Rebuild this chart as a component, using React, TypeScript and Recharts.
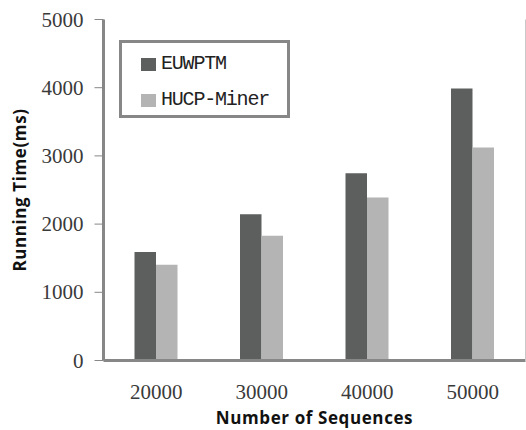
import React from 'react';
import { BarChart, Bar, XAxis, YAxis, Legend } from 'recharts';

// Sequence counts on the x axis
const categories = ['20000', '30000', '40000', '50000'];
// Running time (ms) per algorithm
const euwptm = [1590, 2145, 2745, 3990];
const hucpMiner = [1405, 1830, 2390, 3125];
const yTicks = [0, 1000, 2000, 3000, 4000, 5000];

const seriesNames = ['EUWPTM', 'HUCP-Miner'];
const colors = ['#5d5f5e', '#b3b4b3'];

const data = categories.map((c, i) => ({
  sequences: c,
  [seriesNames[0]]: euwptm[i],
  [seriesNames[1]]: hucpMiner[i],
}));

const frame = '#878787';
const tickFamily = 'Liberation Serif, Times New Roman, serif';
const legendFamily = 'Liberation Mono, Courier New, monospace';
const titleFont: React.CSSProperties = {
  fontFamily: '"Open Sans", sans-serif',
  fontSize: 17,
  fontWeight: 700,
  fill: '#111111',
  letterSpacing: 0.6,
};

function XTick(props: any) {
  const { x, y, payload } = props;
  return (
    <text x={x} y={y} dy={15} textAnchor="middle" fontFamily={tickFamily} fontSize={21} fill="#3a3a3a">
      {payload.value}
    </text>
  );
}

function YTick(props: any) {
  const { x, y, payload } = props;
  return (
    <text x={x} y={y} dy={7} textAnchor="end" fontFamily={tickFamily} fontSize={21} fill="#3a3a3a">
      {payload.value}
    </text>
  );
}

const renderLegend = (props: any) => {
  const payload = props.payload || [];
  return (
    <div
      style={{
        boxSizing: 'border-box',
        width: 171,
        height: 78,
        border: `3px solid ${frame}`,
        background: '#ffffff',
        position: 'relative',
      }}
    >
      {payload.map((entry: any, i: number) => (
        <div
          key={entry.value}
          style={{ position: 'absolute', left: 19, top: 13 + i * 36, height: 16, display: 'flex', alignItems: 'flex-end' }}
        >
          <div style={{ width: 15, height: 13, background: entry.color, marginRight: 5, marginBottom: 1 }} />
          <span
            style={{
              fontFamily: legendFamily,
              fontSize: 20,
              letterSpacing: -1.2,
              color: '#222222',
              lineHeight: '16px',
            }}
          >
            {entry.value}
          </span>
        </div>
      ))}
    </div>
  );
};

const YLabel = () => (
  <text x={26} y={190} transform="rotate(-90, 26, 190)" textAnchor="middle" style={titleFont}>
    Running Time(ms)
  </text>
);

const XLabel = () => (
  <text x={314.5} y={424} textAnchor="middle" style={titleFont}>
    Number of Sequences
  </text>
);

export default function App() {
  return (
    <div style={{ position: 'absolute', left: 0, top: 0, width: 526, height: 430, background: '#ffffff' }}>
      <BarChart
        width={526}
        height={430}
        data={data}
        margin={{ top: 19.5, right: 0, bottom: 0, left: 0 }}
        barGap={0}
        barSize={21.5}
      >
        <XAxis
          dataKey="sequences"
          height={69.5}
          tickSize={0}
          tickMargin={23}
          tickLine={false}
          axisLine={{ stroke: frame, strokeWidth: 3 }}
          tick={XTick}
          label={<XLabel />}
        />
        <XAxis
          xAxisId="top"
          dataKey="sequences"
          orientation="top"
          height={0}
          tick={false}
          tickLine={false}
          axisLine={{ stroke: frame, strokeWidth: 3 }}
        />
        <YAxis
          width={103.5}
          domain={[0, 5000]}
          ticks={yTicks}
          interval={0}
          tickSize={9}
          tickMargin={11}
          tickLine={{ stroke: frame, strokeWidth: 1 }}
          axisLine={{ stroke: frame, strokeWidth: 3 }}
          tick={YTick}
          label={<YLabel />}
        />
        <YAxis
          yAxisId="right"
          orientation="right"
          width={0.5}
          domain={[0, 5000]}
          tick={false}
          tickLine={false}
          axisLine={{ stroke: '#c8c8c8', strokeWidth: 1 }}
        />
        <Legend
          layout="horizontal"
          verticalAlign="middle"
          align="center"
          content={renderLegend}
          wrapperStyle={{ position: 'absolute', left: 119, top: 40, width: 171, height: 78 }}
        />
        {seriesNames.map((name, i) => (
          <Bar key={name} dataKey={name} fill={colors[i]} isAnimationActive={false} />
        ))}
      </BarChart>
    </div>
  );
}
